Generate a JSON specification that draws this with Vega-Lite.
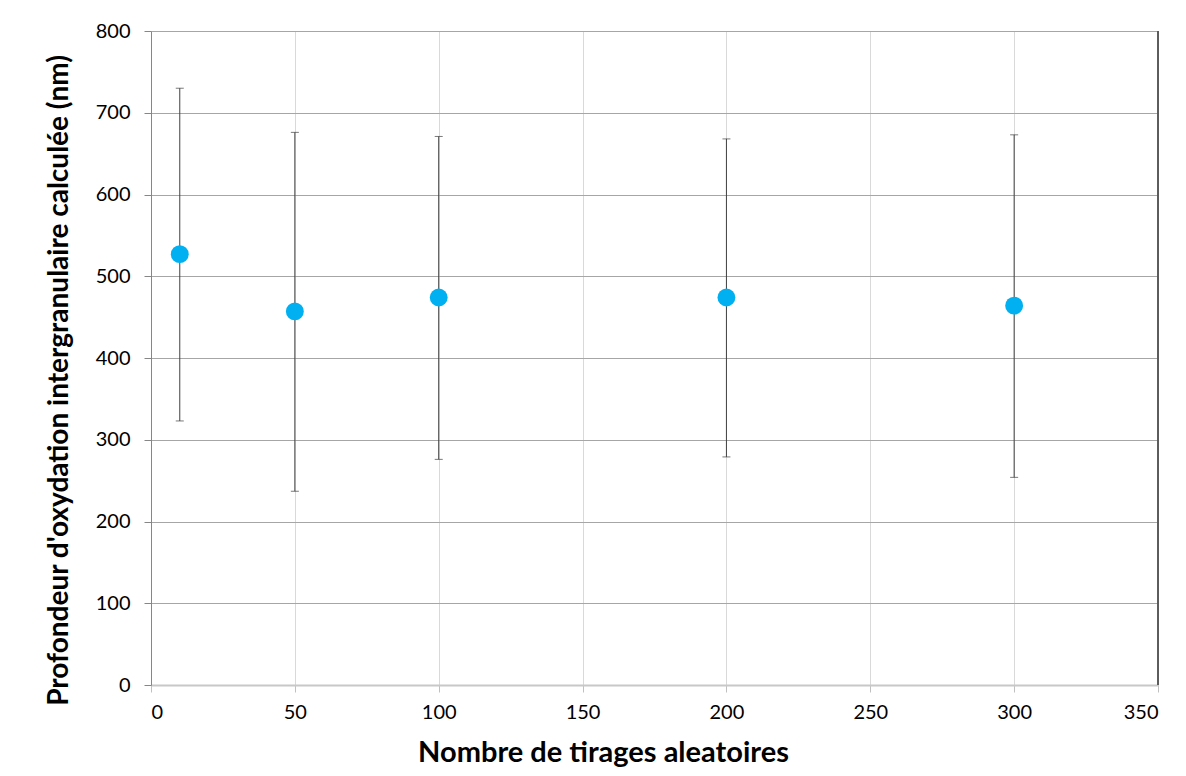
{
  "$schema": "https://vega.github.io/schema/vega-lite/v6.json",
  "autosize": {"type": "none"},
  "padding": {"left": 151, "top": 31, "right": 28, "bottom": 91},
  "width": 1007,
  "height": 654,
  "background": "white",
  "config": {
    "font": "Lato",
    "view": {"stroke": null},
    "axis": {
      "labelFont": "Lato",
      "labelFontSize": 20,
      "labelColor": "#000000",
      "titleFont": "Lato",
      "titleFontSize": 28,
      "titleFontWeight": "bold",
      "titleColor": "#000000",
      "tickSize": 7,
      "tickColor": "#868686"
    }
  },
  "data": {
    "values": [
      {"tirages": 10, "profondeur": 527, "bas": 323, "haut": 730},
      {"tirages": 50, "profondeur": 457, "bas": 237, "haut": 676},
      {"tirages": 100, "profondeur": 474, "bas": 276, "haut": 671},
      {"tirages": 200, "profondeur": 474, "bas": 279, "haut": 668},
      {"tirages": 300, "profondeur": 464, "bas": 254, "haut": 673}
    ]
  },
  "layer": [
    {
      "mark": {"type": "rule", "color": "#404040", "strokeWidth": 1},
      "encoding": {
        "x": {
          "field": "tirages", "type": "quantitative",
          "scale": {"domain": [0, 350], "nice": false},
          "axis": {
            "title": "Nombre de tirages aleatoires",
            "values": [0, 50, 100, 150, 200, 250, 300, 350],
            "gridColor": "#d9d9d9",
            "domainColor": "#c8c8c8",
            "domainWidth": 2,
            "tickColor": "#c0c0c0",
            "labelPadding": 10,
            "titlePadding": 16,
            "titleFontSize": 29,
            "titleX": 452
          }
        },
        "y": {
          "field": "bas", "type": "quantitative",
          "scale": {"domain": [0, 800], "nice": false},
          "axis": {
            "title": "Profondeur d'oxydation intergranulaire calculée (nm)",
            "values": [0, 100, 200, 300, 400, 500, 600, 700, 800],
            "gridColor": "#a6a6a6",
            "domainColor": "#868686",
            "labelPadding": 14,
            "titlePadding": 22,
            "titleY": 349
          }
        },
        "y2": {"field": "haut"}
      }
    },
    {
      "mark": {"type": "tick", "orient": "horizontal", "color": "#404040", "size": 8, "thickness": 1},
      "encoding": {
        "x": {"field": "tirages", "type": "quantitative"},
        "y": {"field": "haut", "type": "quantitative"}
      }
    },
    {
      "mark": {"type": "tick", "orient": "horizontal", "color": "#404040", "size": 8, "thickness": 1},
      "encoding": {
        "x": {"field": "tirages", "type": "quantitative"},
        "y": {"field": "bas", "type": "quantitative"}
      }
    },
    {
      "mark": {"type": "rule", "color": "#595959", "strokeWidth": 1},
      "encoding": {"x": {"datum": 350}}
    },
    {
      "mark": {"type": "circle", "color": "#00B0F0", "opacity": 1, "size": 320},
      "encoding": {
        "x": {"field": "tirages", "type": "quantitative"},
        "y": {"field": "profondeur", "type": "quantitative"}
      }
    }
  ]
}
